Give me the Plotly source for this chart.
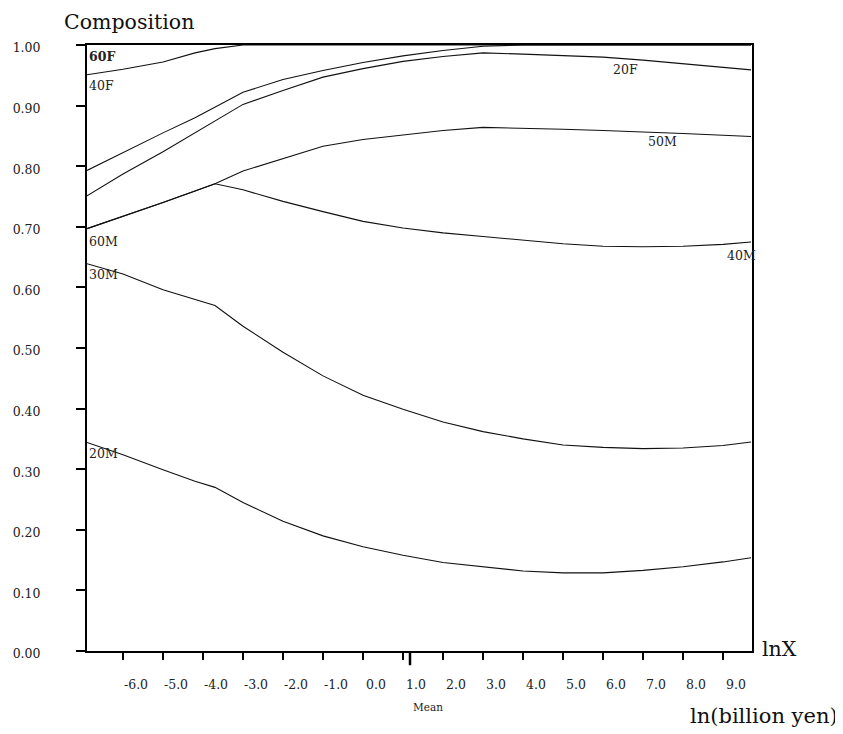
import plotly.graph_objects as go

# ---- data ----
x_lnX = [-6.9, -6.0, -5.0, -4.2, -3.7, -3.0, -2.0, -1.0, 0.0, 1.0, 2.0, 3.0, 4.0, 5.0, 6.0, 7.0, 8.0, 9.0, 9.7]

cum_40F = [0.951, 0.960, 0.972, 0.987, 0.994, 1.000, 1.000, 1.000, 1.000, 1.000, 1.000, 1.000, 1.000, 1.000, 1.000, 1.000, 1.000, 1.000, 1.000]
cum_30F = [0.793, 0.823, 0.855, 0.880, 0.897, 0.922, 0.943, 0.958, 0.971, 0.982, 0.991, 0.998, 1.000, 1.000, 1.000, 1.000, 1.000, 1.000, 1.000]
cum_20F = [0.751, 0.787, 0.824, 0.855, 0.874, 0.902, 0.925, 0.947, 0.961, 0.973, 0.981, 0.987, 0.985, 0.983, 0.980, 0.975, 0.969, 0.964, 0.959]
cum_50M = [0.697, 0.717, 0.740, 0.759, 0.771, 0.792, 0.812, 0.833, 0.844, 0.852, 0.859, 0.864, 0.863, 0.861, 0.859, 0.857, 0.854, 0.851, 0.849]
cum_40M = [0.697, 0.717, 0.740, 0.759, 0.771, 0.761, 0.742, 0.725, 0.709, 0.698, 0.690, 0.684, 0.678, 0.672, 0.668, 0.667, 0.668, 0.671, 0.675]
cum_30M = [0.639, 0.622, 0.596, 0.580, 0.570, 0.536, 0.493, 0.454, 0.422, 0.399, 0.378, 0.362, 0.350, 0.340, 0.336, 0.334, 0.335, 0.339, 0.345]
cum_20M = [0.344, 0.324, 0.299, 0.280, 0.270, 0.245, 0.214, 0.190, 0.172, 0.158, 0.146, 0.139, 0.132, 0.129, 0.129, 0.133, 0.139, 0.147, 0.154]

x_tick_vals = [-6, -5, -4, -3, -2, -1, 0, 1, 2, 3, 4, 5, 6, 7, 8, 9]
x_tick_text = ["-6.0", "-5.0", "-4.0", "-3.0", "-2.0", "-1.0", "0.0", "1.0", "2.0", "3.0", "4.0", "5.0", "6.0", "7.0", "8.0", "9.0"]
y_tick_vals = [0.0, 0.1, 0.2, 0.3, 0.4, 0.5, 0.6, 0.7, 0.8, 0.9, 1.0]
y_tick_text = ["0.00", "0.10", "0.20", "0.30", "0.40", "0.50", "0.60", "0.70", "0.80", "0.90", "1.00"]
mean_lnX = 1.175

curve_labels = ["60F", "40F", "30F", "20F", "50M", "60M", "30M", "20M", "40M"]
label_x = [-6.9, -6.9, 9.75, 6.2, 7.075, -6.9, -6.9, -6.9, 9.05]
label_y = [0.981, 0.933, 0.981, 0.960, 0.840, 0.676, 0.621, 0.326, 0.652]

FONT = "DejaVu Serif"

fig = go.Figure()
for name, ys in [("40F", cum_40F), ("30F", cum_30F), ("20F", cum_20F), ("50M", cum_50M),
                 ("40M", cum_40M), ("30M", cum_30M), ("20M", cum_20M)]:
    fig.add_trace(go.Scatter(x=x_lnX, y=ys, mode="lines", name=name,
                             line=dict(color="#111111", width=1.1), showlegend=False))

annotations = []
for t, lx, ly in zip(curve_labels, label_x, label_y):
    txt = "<b>%s</b>" % t if t == "60F" else t
    annotations.append(dict(x=lx, y=ly, xref="x", yref="y", text=txt, showarrow=False,
                            xanchor="left", yanchor="middle",
                            font=dict(family=FONT, size=12.5, color="#222222")))

annotations += [
    dict(x=-0.0376, y=1.0615, xref="paper", yref="paper", text="Composition", showarrow=False,
         xanchor="left", yanchor="top", font=dict(family=FONT, size=20.5, color="#111111")),
    dict(x=1.012, y=0.003, xref="paper", yref="paper", text="lnX", showarrow=False,
         xanchor="left", yanchor="middle", font=dict(family=FONT, size=20.5, color="#111111")),
    dict(x=1.132, y=-0.107, xref="paper", yref="paper", text="ln(billion yen)", showarrow=False,
         xanchor="right", yanchor="middle", font=dict(family=FONT, size=21, color="#111111")),
    dict(x=mean_lnX, y=-0.092, xref="x", yref="paper", text="Mean", showarrow=False,
         xanchor="left", yanchor="middle", xshift=1, font=dict(family=FONT, size=10.5, color="#222222")),
]

shapes = [
    dict(type="line", xref="x", yref="paper", x0=mean_lnX, x1=mean_lnX, y0=0, y1=-0.0235,
         line=dict(color="black", width=2.5)),
]

# The page body has an 8px default margin, so the figure is sized to fit the 843x734 window.
fig.update_layout(
    width=835, height=726,
    margin=dict(l=79, r=91, t=37, b=83, autoexpand=False),
    paper_bgcolor="white", plot_bgcolor="white",
    font=dict(family=FONT, color="#222222"),
    annotations=annotations, shapes=shapes,
    xaxis=dict(range=[-6.9, 9.725], showgrid=False, zeroline=False, automargin=False,
               showline=True, mirror=True, linecolor="black", linewidth=2,
               ticks="outside", ticklen=7, tickwidth=2, tickcolor="black",
               tickvals=x_tick_vals, ticktext=x_tick_text,
               tickfont=dict(family=FONT, size=12.5, color="#222222"),
               ticklabelshift=13, ticklabelstandoff=14),
    yaxis=dict(range=[0, 1], showgrid=False, zeroline=False, automargin=False,
               showline=True, mirror=True, linecolor="black", linewidth=2,
               ticks="outside", ticklen=9, tickwidth=2, tickcolor="black",
               tickvals=y_tick_vals, ticktext=y_tick_text,
               tickfont=dict(family=FONT, size=12.5, color="#222222"),
               ticklabelshift=3, ticklabelstandoff=33),
)

fig.write_html("out.html")
